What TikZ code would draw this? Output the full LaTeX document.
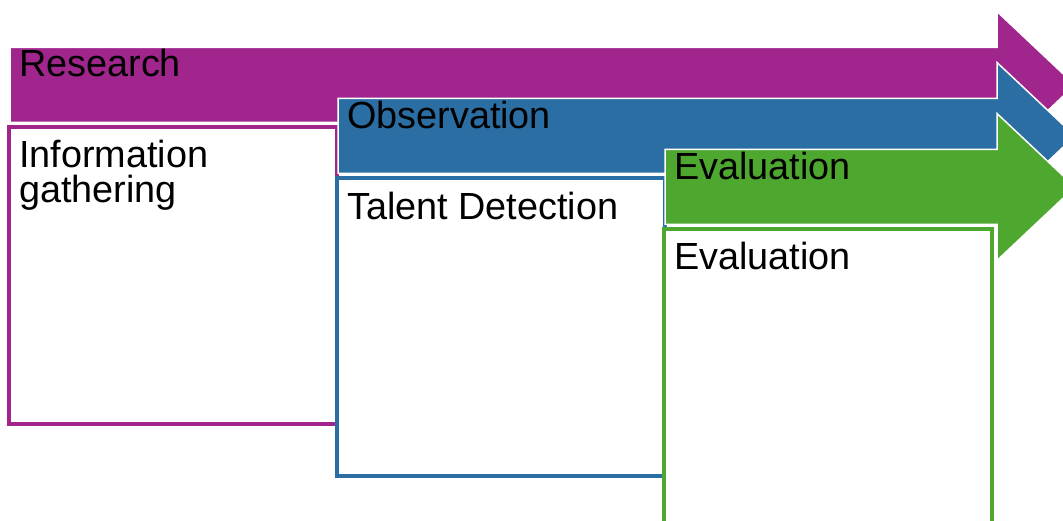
\documentclass[tikz,border=0pt]{standalone}
\usepackage{fontspec}
\setmainfont{Liberation Sans}
\definecolor{cpurple}{RGB}{160,38,142}
\definecolor{cblue}{RGB}{43,110,163}
\definecolor{cgreen}{RGB}{78,167,46}
\tikzset{
  stagearrow/.style={fill=#1, draw=white, line width=1.5pt, line join=miter},
  stagebox/.style={fill=white, draw=#1, line width=3.2pt},
  lbl/.style={anchor=base west, inner sep=0pt, font=\fontsize{37.8}{35}\selectfont, align=left},
}
\newcommand\StageArrow[3]{%
  \path[stagearrow=#3] (#1,#2-37.5) -- (997,#2-37.5) -- (997,#2-73.5) -- (1075,#2)
    -- (997,#2+73.5) -- (997,#2+37.5) -- (#1,#2+37.5) -- cycle;}
\begin{document}
\begin{tikzpicture}[x=1pt,y=-1pt]
\useasboundingbox (0,0) rectangle (1063,521);
\clip (0,0) rectangle (1063,521);
% Research
\StageArrow{10}{85}{cpurple}
\node[lbl] (t1) at (19,77) {Research};
\path[stagebox=cpurple] (9,127) rectangle (337,424);
\node[lbl] (b1) at (19,203) {Information\\gathering};
% Observation
\StageArrow{338}{136}{cblue}
\node[lbl] (t2) at (347,129) {Observation};
\path[stagebox=cblue] (337,178) rectangle (665,476);
\node[lbl] (b2) at (347,220) {Talent Detection};
% Evaluation
\StageArrow{665}{187}{cgreen}
\node[lbl] (t3) at (674,180) {Evaluation};
\path[stagebox=cgreen] (664,229) rectangle (992,528);
\node[lbl] (b3) at (674,270) {Evaluation};
\end{tikzpicture}
\end{document}
